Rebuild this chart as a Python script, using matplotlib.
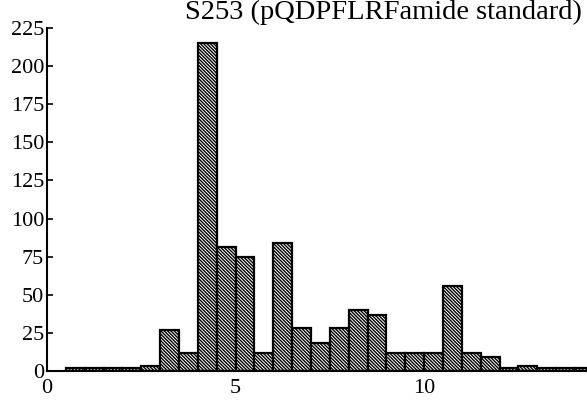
import matplotlib
matplotlib.use("Agg")
import matplotlib.pyplot as plt

# bin left edges (width 0.5) and counts
bin_width = 0.5
bin_left = [0.5 + i * bin_width for i in range(28)]
counts = [2, 2, 2, 2, 3, 27, 12, 215, 81, 75, 12, 84, 28, 18,
          28, 40, 37, 12, 12, 12, 56, 12, 9, 2, 3, 2, 2, 2]

x_ticks = [0, 5, 10]
y_ticks = list(range(0, 226, 25))
title = "S253 (pQDPFLRFamide standard)"

plt.rcParams['font.family'] = ['Liberation Serif', 'DejaVu Serif']
plt.rcParams['hatch.linewidth'] = 1.0

fig = plt.figure(figsize=(5.87, 4.01), dpi=100)
ax = fig.add_axes([0.080, 0.075, 0.920, 0.855])

ax.bar(bin_left, counts, width=bin_width, align='edge',
       color='white', edgecolor='black', linewidth=1.6, hatch='\\' * 10)

ax.set_xlim(0, 14.32)
ax.set_ylim(0, 225)
ax.set_xticks(x_ticks)
ax.set_yticks(y_ticks)
ax.tick_params(axis='x', length=0, pad=6, labelsize=16)
ax.tick_params(axis='y', direction='in', length=4, width=1.2, pad=2, labelsize=16)

for side in ('top', 'right'):
    ax.spines[side].set_visible(False)
for side in ('left', 'bottom'):
    ax.spines[side].set_linewidth(1.5)

fig.text(0.654, 0.968, title, ha='center', va='center', fontsize=20.5)

fig.savefig("out.png", dpi=100)
